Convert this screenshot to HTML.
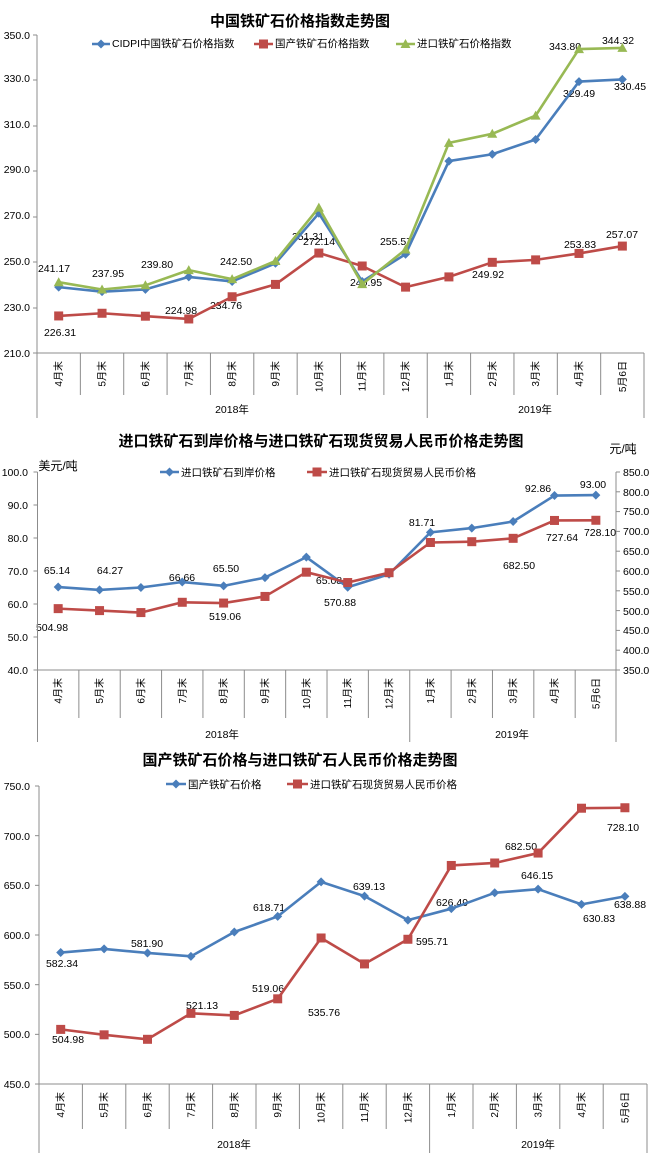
<!DOCTYPE html>
<html><head><meta charset="utf-8">
<style>
body{margin:0;background:#fff;}
svg{display:block;font-family:"Liberation Sans","Noto Sans CJK SC",sans-serif;}
.t{font-size:15px;font-weight:bold;fill:#000;}
.ax{font-size:10.5px;fill:#000;}
.lg{font-size:10.5px;fill:#000;}
.dl{font-size:10.5px;fill:#000;}
.cat{font-size:10px;fill:#000;}
</style></head><body>
<svg id="s" width="650" height="1165" viewBox="0 0 650 1165">
<rect width="650" height="1165" fill="#fff"/>
<!-- Chart 1 -->
<text class="t" x="300" y="26" text-anchor="middle">中国铁矿石价格指数走势图</text>
<g class="ax" text-anchor="end">
<text x="30" y="39">350.0</text><text x="30" y="82">330.0</text><text x="30" y="128">310.0</text>
<text x="30" y="173">290.0</text><text x="30" y="219">270.0</text><text x="30" y="265">250.0</text>
<text x="30" y="311">230.0</text><text x="30" y="357">210.0</text></g>
<g class="lg"><text x="112" y="47">CIDPI中国铁矿石价格指数</text><text x="275" y="47">国产铁矿石价格指数</text><text x="417" y="47">进口铁矿石价格指数</text></g>
<g class="dl" text-anchor="middle">
<text x="54" y="272">241.17</text><text x="108" y="277">237.95</text><text x="157" y="268">239.80</text>
<text x="236" y="265">242.50</text><text x="308" y="240">251.31</text><text x="319" y="245">272.14</text>
<text x="396" y="245">255.57</text><text x="366" y="286">240.95</text><text x="60" y="336">226.31</text>
<text x="181" y="314">224.98</text><text x="226" y="309">234.76</text><text x="488" y="278">249.92</text>
<text x="580" y="248">253.83</text><text x="622" y="238">257.07</text><text x="565" y="50">343.80</text>
<text x="618" y="44">344.32</text><text x="579" y="97">329.49</text><text x="630" y="90">330.45</text></g>
<text class="ax" x="232" y="413" text-anchor="middle">2018年</text>
<text class="ax" x="535" y="413" text-anchor="middle">2019年</text>
<!-- Chart 2 -->
<text class="t" x="321" y="446" text-anchor="middle">进口铁矿石到岸价格与进口铁矿石现货贸易人民币价格走势图</text>
<text class="ax" x="623" y="453" text-anchor="middle" style="font-size:12px">元/吨</text>
<text class="ax" x="58" y="470" text-anchor="middle" style="font-size:12px">美元/吨</text>
<g class="ax" text-anchor="end">
<text x="28" y="476">100.0</text><text x="28" y="509">90.0</text><text x="28" y="542">80.0</text>
<text x="28" y="575">70.0</text><text x="28" y="608">60.0</text><text x="28" y="641">50.0</text><text x="28" y="674">40.0</text></g>
<g class="ax" text-anchor="start">
<text x="623" y="476">850.0</text><text x="623" y="496">800.0</text><text x="623" y="515">750.0</text>
<text x="623" y="535">700.0</text><text x="623" y="555">650.0</text><text x="623" y="575">600.0</text>
<text x="623" y="595">550.0</text><text x="623" y="615">500.0</text><text x="623" y="634">450.0</text>
<text x="623" y="654">400.0</text><text x="623" y="674">350.0</text></g>
<g class="lg"><text x="181" y="476">进口铁矿石到岸价格</text><text x="329" y="476">进口铁矿石现货贸易人民币价格</text></g>
<g class="dl" text-anchor="middle">
<text x="57" y="574">65.14</text><text x="110" y="574">64.27</text><text x="182" y="581">66.66</text>
<text x="226" y="572">65.50</text><text x="329" y="584">65.08</text><text x="422" y="526">81.71</text>
<text x="538" y="492">92.86</text><text x="593" y="488">93.00</text><text x="52" y="631">504.98</text>
<text x="225" y="620">519.06</text><text x="340" y="606">570.88</text><text x="519" y="569">682.50</text>
<text x="562" y="541">727.64</text><text x="600" y="536">728.10</text></g>
<text class="ax" x="222" y="738" text-anchor="middle">2018年</text>
<text class="ax" x="512" y="738" text-anchor="middle">2019年</text>
<!-- Chart 3 -->
<text class="t" x="300" y="765" text-anchor="middle">国产铁矿石价格与进口铁矿石人民币价格走势图</text>
<g class="ax" text-anchor="end">
<text x="30" y="790">750.0</text><text x="30" y="840">700.0</text><text x="30" y="889">650.0</text>
<text x="30" y="939">600.0</text><text x="30" y="989">550.0</text><text x="30" y="1038">500.0</text><text x="30" y="1088">450.0</text></g>
<g class="lg"><text x="188" y="788">国产铁矿石价格</text><text x="310" y="788">进口铁矿石现货贸易人民币价格</text></g>
<g class="dl" text-anchor="middle">
<text x="62" y="967">582.34</text><text x="147" y="947">581.90</text><text x="269" y="911">618.71</text>
<text x="369" y="890">639.13</text><text x="452" y="906">626.49</text><text x="537" y="879">646.15</text>
<text x="599" y="922">630.83</text><text x="630" y="908">638.88</text><text x="68" y="1043">504.98</text>
<text x="202" y="1009">521.13</text><text x="268" y="992">519.06</text><text x="324" y="1016">535.76</text>
<text x="432" y="945">595.71</text><text x="521" y="850">682.50</text><text x="623" y="831">728.10</text></g>
<text class="ax" x="234" y="1148" text-anchor="middle">2018年</text>
<text class="ax" x="538" y="1148" text-anchor="middle">2019年</text>
<g id="cats1" class="cat"></g>
<g id="g"></g>
</svg>
<script>
var NS="http://www.w3.org/2000/svg",G=document.getElementById('g');
function el(t,a){var e=document.createElementNS(NS,t);for(var k in a)e.setAttribute(k,a[k]);G.appendChild(e);return e;}
var B="#4a7ebb",R="#be4b48",Gr="#98b954",AX="#8c8c8c";
function mk(type,x,y,c){
 if(type=='d')el('polygon',{points:(x)+','+(y-4.5)+' '+(x+4.5)+','+y+' '+x+','+(y+4.5)+' '+(x-4.5)+','+y,fill:c});
 else if(type=='s')el('rect',{x:x-4.5,y:y-4.5,width:9,height:9,fill:c});
 else el('polygon',{points:x+','+(y-5)+' '+(x+5)+','+(y+4)+' '+(x-5)+','+(y+4),fill:c});
}
function series(x0,st,vals,f,c,type){
 var p=vals.map(function(v,i){return [x0+st*(i+0.5),f(v)];});
 el('polyline',{points:p.map(function(q){return q.join(',')}).join(' '),fill:'none',stroke:c,'stroke-width':2.6,'stroke-linejoin':'round'});
 p.forEach(function(q){mk(type,q[0],q[1],c);});
}
function leg(x1,x2,y,c,type){el('line',{x1:x1,y1:y,x2:x2,y2:y,stroke:c,'stroke-width':2.6});mk(type,(x1+x2)/2,y,c);}
function frame(x0,st,top,bot,catBot,yearBot,right,ticksL,ticksR){
 el('line',{x1:x0,y1:top,x2:x0,y2:yearBot,stroke:AX});
 el('line',{x1:x0,y1:bot,x2:right,y2:bot,stroke:AX});
 ticksL.forEach(function(y){el('line',{x1:x0-4,y1:y,x2:x0,y2:y,stroke:AX});});
 if(ticksR){el('line',{x1:right,y1:top,x2:right,y2:yearBot,stroke:AX});ticksR.forEach(function(y){el('line',{x1:right,y1:y,x2:right+4,y2:y,stroke:AX});});}
 else el('line',{x1:right,y1:bot,x2:right,y2:yearBot,stroke:AX});
 for(var i=1;i<14;i++){var x=x0+st*i;el('line',{x1:x,y1:bot,x2:x,y2:i==9?yearBot:catBot,stroke:AX});}
 var cats=['4月末','5月末','6月末','7月末','8月末','9月末','10月末','11月末','12月末','1月末','2月末','3月末','4月末','5月6日'];
 cats.forEach(function(s,i){var x=x0+st*(i+0.5)+3.5,y=bot+8;var t=el('text',{x:x,y:y,'text-anchor':'end',transform:'rotate(-90 '+x+' '+y+')','font-size':'10'});t.textContent=s;});
}
// chart1
var f1=function(v){return 353-(v-210)*318/140;};
frame(37,43.36,35,353,395,418,644,[35,80,126,171,217,262,308,353]);
series(37,43.36,[239,237,238,243.5,241.5,249.5,271.5,241.5,253.5,294.5,297.5,304,329.49,330.45],f1,B,'d');
series(37,43.36,[226.31,227.5,226.2,224.98,234.76,240.2,254,248.3,239,243.5,249.92,251,253.83,257.07],f1,R,'s');
series(37,43.36,[241.17,237.95,239.8,246.5,242.5,250.5,274,240.3,255.57,302.5,306.5,314.5,343.8,344.32],f1,Gr,'t');
leg(92,110,44,B,'d');leg(254,273,44,R,'s');leg(396,415,44,Gr,'t');
// chart2
var fl=function(v){return 670-(v-40)*198/60;},fr=function(v){return 670-(v-350)*198/500;};
var tl=[],trr=[];for(var i=0;i<=6;i++)tl.push(472+i*33);for(var i=0;i<=10;i++)trr.push(472+i*19.8);
frame(37.5,41.36,472,670,718,742,616,tl,trr);
series(37.5,41.36,[65.14,64.27,65,66.66,65.5,68,74.2,65.08,69,81.71,83,85,92.86,93],fl,B,'d');
series(37.5,41.36,[504.98,500,495,521,519.06,535.76,597,570.88,595.71,672,674,682.5,727.64,728.1],fr,R,'s');
leg(160,179,472,B,'d');leg(307,327,472,R,'s');
// chart3
var f3=function(v){return 1084-(v-450)*298/300;};
var t3=[];for(var i=0;i<=6;i++)t3.push(786+i*49.67);
frame(39,43.4,786,1084,1129,1153,647,t3,null);
series(39,43.4,[582.34,586,581.9,578.5,603,618.71,653.5,639.13,615,626.49,642.5,646.15,630.83,638.88],f3,B,'d');
series(39,43.4,[504.98,499.5,495,521.13,519.06,535.76,597,570.88,595.71,670,672.5,682.5,727.64,728.1],f3,R,'s');
leg(166,186,784,B,'d');leg(287,308,784,R,'s');
</script>
</body></html>
